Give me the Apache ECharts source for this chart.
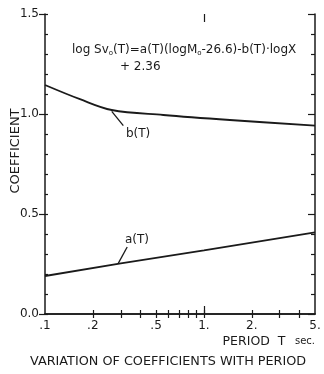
<!DOCTYPE html>
<html><head><meta charset="utf-8">
<script src="https://cdn.jsdelivr.net/npm/echarts@6/dist/echarts.min.js"></script>
<style>html,body{margin:0;padding:0;background:#fff}#c{width:324px;height:374px}</style>
</head><body><div id="c"></div>
<script>
// Data
const bT = [0.1, 0.166, 0.263, 0.555, 1.457, 5];
const bV = [1.145, 1.074, 1.02, 0.995, 0.970, 0.942];
const aT = [0.1, 0.3, 1, 5];
const aV = [0.19, 0.253, 0.318, 0.408];
const xTickValues = [0.2, 0.3, 0.4, 0.5, 0.6, 0.7, 0.8, 0.9, 1, 2, 3, 4];
const xMajorTicks = [1];
const xLabelValues = [0.1, 0.2, 0.5, 1, 2, 5];
const xLabelText = ['.1', '.2', '.5', '1.', '2.', '5.'];
const yLabelText = ['0.0', '0.5', '1.0', '1.5'];

const ink = '#1a1a1a';
const font = 'DejaVu Sans';
const chart = echarts.init(document.getElementById('c'), null, {renderer: 'canvas'});

function xAxisBase(pos, extra) {
  return Object.assign({
    type: 'log', logBase: 10, min: 0.1, max: 5, position: pos,
    axisLine: {show: true, lineStyle: {color: ink, width: 1.5}},
    splitLine: {show: false}, minorTick: {show: false}, minorSplitLine: {show: false},
    axisLabel: {show: false}
  }, extra);
}
function yAxisBase(pos, extra) {
  return Object.assign({
    type: 'value', min: 0, max: 1.5, position: pos,
    axisLine: {show: true, lineStyle: {color: ink, width: 1.5}},
    splitLine: {show: false}, axisLabel: {show: false}
  }, extra);
}

const option = {
  animation: false,
  grid: {left: 45, right: 9, top: 14, bottom: 60, containLabel: false},
  xAxis: [
    xAxisBase('bottom', {
      axisTick: {show: true, inside: true, length: 4, customValues: xTickValues, lineStyle: {color: ink, width: 1.2}},
      axisLabel: {show: true, customValues: xLabelValues, color: ink, fontFamily: font, fontSize: 12, margin: 6,
        formatter: v => { const i = xLabelValues.findIndex(t => Math.abs(t - v) < 1e-6); return i >= 0 ? xLabelText[i] : ''; }}
    }),
    xAxisBase('top', {
      axisTick: {show: true, inside: true, length: 4, customValues: xTickValues, lineStyle: {color: ink, width: 1.2}}
    }),
    xAxisBase('bottom', {
      axisLine: {show: false},
      axisTick: {show: true, inside: true, length: 8, customValues: xMajorTicks, lineStyle: {color: ink, width: 1.2}}
    }),
    xAxisBase('top', {
      axisLine: {show: false},
      axisTick: {show: true, inside: true, length: 8, customValues: xMajorTicks, lineStyle: {color: ink, width: 1.2}}
    })
  ],
  yAxis: [
    yAxisBase('left', {
      interval: 0.5,
      axisTick: {show: true, inside: false, length: 6, lineStyle: {color: ink, width: 1.2}},
      axisLabel: {show: true, color: ink, fontFamily: font, fontSize: 12, margin: 6,
        formatter: v => yLabelText[Math.round(v / 0.5)]}
    }),
    yAxisBase('left', {
      interval: 0.1, axisLine: {show: false},
      axisTick: {show: true, inside: true, length: 3, lineStyle: {color: ink, width: 1.2}}
    }),
    yAxisBase('right', {
      interval: 0.5,
      axisTick: {show: true, inside: true, length: 7, lineStyle: {color: ink, width: 1.2}},
      minorTick: {show: true, splitNumber: 5, length: 4, lineStyle: {color: ink, width: 1.2}}
    })
  ],
  series: [
    {type: 'line', name: 'b(T)', xAxisIndex: 0, yAxisIndex: 0, smooth: 0.35, symbol: 'none',
      lineStyle: {color: ink, width: 1.8},
      data: bT.map((t, i) => [t, bV[i]])},
    {type: 'line', name: 'a(T)', xAxisIndex: 0, yAxisIndex: 0, symbol: 'none',
      lineStyle: {color: ink, width: 1.8},
      data: aT.map((t, i) => [t, aV[i]])}
  ],
  graphic: [
    {type: 'text', left: 72, top: 44, style: {
      text: '{n|log Sv}{s|o}{n|(T)=a(T)(logM}{s|o}{n|-26.6)-b(T)·logX}',
      rich: {n: {fontFamily: font, fontSize: 12, fill: ink}, s: {fontFamily: font, fontSize: 7, fill: ink, verticalAlign: 'bottom', padding: [6, 0, 0, 0]}}
    }},
    {type: 'text', left: 120, top: 61, style: {text: '+ 2.36', fontFamily: font, fontSize: 12, fill: ink}},
    {type: 'text', x: 16, y: 151, rotation: Math.PI / 2, style: {text: 'COEFFICIENT', fontFamily: font, fontSize: 13, fill: ink, align: 'center', verticalAlign: 'middle'}},
    {type: 'text', right: 9, top: 335, style: {text: '{a|PERIOD  T}{b|   sec.}', rich: {a: {fontFamily: font, fontSize: 12.5, fill: ink}, b: {fontFamily: font, fontSize: 10, fill: ink}}}},
    {type: 'text', left: 30, top: 355, style: {text: 'VARIATION OF COEFFICIENTS WITH PERIOD', fontFamily: font, fontSize: 12.8, fill: ink}}
  ]
};
chart.setOption(option);

// Curve annotations placed in data coordinates
const notes = [
  {text: 'b(T)', at: [0.385, 0.902], from: [0.263, 1.013], to: [0.311, 0.942]},
  {text: 'a(T)', at: [0.379, 0.369], from: [0.329, 0.335], to: [0.289, 0.253]}
];
const extra = [];
notes.forEach(n => {
  const p = chart.convertToPixel({xAxisIndex: 0, yAxisIndex: 0}, n.at);
  const f = chart.convertToPixel({xAxisIndex: 0, yAxisIndex: 0}, n.from);
  const t = chart.convertToPixel({xAxisIndex: 0, yAxisIndex: 0}, n.to);
  extra.push({type: 'text', x: p[0], y: p[1], style: {text: n.text, fontFamily: font, fontSize: 12, fill: ink, align: 'center', verticalAlign: 'middle'}});
  extra.push({type: 'line', shape: {x1: f[0], y1: f[1], x2: t[0], y2: t[1]}, style: {stroke: ink, lineWidth: 1.3}});
});
chart.setOption({graphic: option.graphic.concat(extra)});
</script></body></html>
